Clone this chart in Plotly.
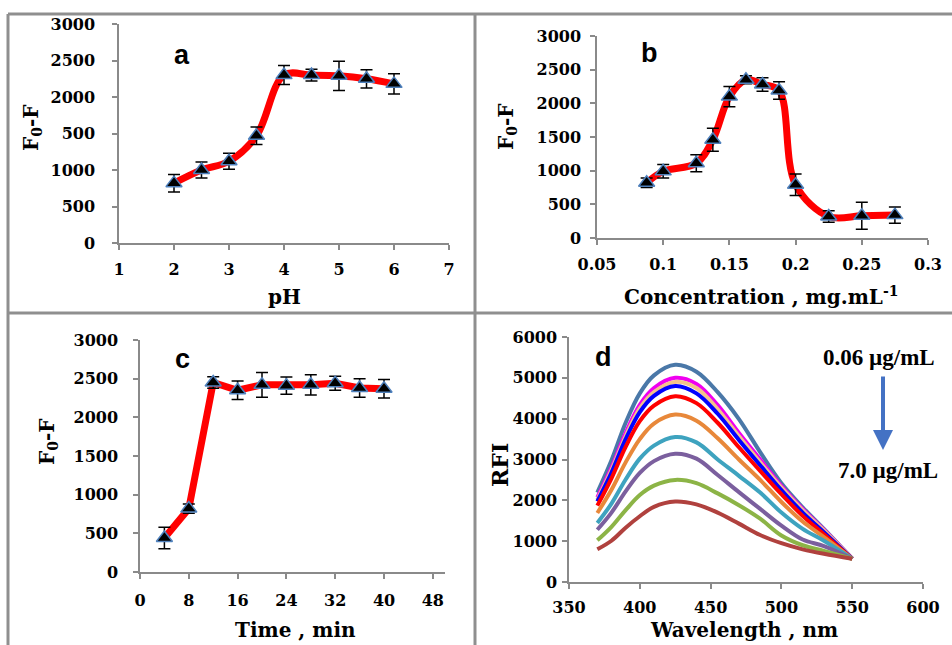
import plotly.graph_objects as go

W, H = 952, 645

# ---------------- data ----------------
ph = [2, 2.5, 3, 3.5, 4, 4.5, 5, 5.5, 6]
ph_resp = [820, 1000, 1120, 1470, 2300, 2300, 2290, 2250, 2180]
ph_err = [120, 110, 110, 120, 130, 80, 200, 125, 140]

conc = [0.0875, 0.1, 0.125, 0.1375, 0.15, 0.1625, 0.175, 0.1875, 0.2, 0.225, 0.25, 0.275]
conc_resp = [820, 990, 1110, 1460, 2100, 2350, 2280, 2190, 790, 320, 330, 340]
conc_err = [70, 100, 125, 170, 150, 60, 100, 130, 160, 85, 200, 120]

time_min = [4, 8, 12, 16, 20, 24, 28, 32, 36, 40]
time_resp = [440, 820, 2450, 2350, 2420, 2410, 2420, 2440, 2380, 2370]
time_err = [140, 60, 75, 120, 160, 110, 130, 90, 120, 120]

wavelength = [370, 380, 390, 400, 410, 425, 440, 455, 470, 485, 500, 515, 530, 550]
rfi_1 = [2190, 2980, 3900, 4620, 5060, 5320, 5150, 4650, 3990, 3180, 2420, 1830, 1300, 570]
rfi_2 = [2070, 2800, 3650, 4340, 4750, 5000, 4850, 4330, 3650, 3000, 2350, 1790, 1280, 570]
rfi_3 = [2020, 2740, 3570, 4250, 4650, 4900, 4750, 4230, 3570, 2930, 2310, 1760, 1260, 570]
rfi_4 = [1975, 2680, 3500, 4160, 4560, 4800, 4620, 4120, 3480, 2860, 2250, 1700, 1220, 570]
rfi_5 = [1870, 2540, 3310, 3940, 4320, 4550, 4380, 3900, 3300, 2720, 2150, 1620, 1170, 570]
rfi_6 = [1690, 2260, 2930, 3500, 3880, 4100, 3950, 3520, 3000, 2500, 1960, 1480, 1100, 570]
rfi_7 = [1445, 1920, 2510, 3020, 3340, 3550, 3420, 3000, 2600, 2190, 1700, 1300, 1010, 570]
rfi_8 = [1280, 1700, 2220, 2670, 2960, 3140, 3020, 2620, 2200, 1790, 1380, 1040, 880, 570]
rfi_9 = [1020, 1350, 1760, 2130, 2360, 2500, 2420, 2170, 1880, 1550, 1140, 900, 760, 570]
rfi_10 = [800, 1010, 1330, 1610, 1840, 1970, 1900, 1700, 1430, 1150, 950, 800, 690, 570]
rfi_series = [rfi_1, rfi_2, rfi_3, rfi_4, rfi_5, rfi_6, rfi_7, rfi_8, rfi_9, rfi_10]
rfi_colors = ['#4A78A8', '#F000F0', '#F5C28A', '#0000FF', '#FF0000',
              '#E8883A', '#3EA3BF', '#7B5F9E', '#8CB446', '#B0413E']

conc_ticks = [0.05, 0.1, 0.15, 0.2, 0.25, 0.3]
conc_ticktext = ['0.05', '0.1', '0.15', '0.2', '0.25', '0.3']
ph_yticktext = ['0', '500', '1000', '500', '2000', '2500', '3000']


def px(p):
    return p / W


def py(p):
    return 1 - p / H


fig = go.Figure()

RED = '#FF0000'
MK = dict(symbol='triangle-up', size=14, color='black', line=dict(color='#4F81BD', width=1.5))


def add_panel(x, y, err, xa, ya, shape):
    fig.add_trace(go.Scatter(x=x, y=y, mode='lines', xaxis=xa, yaxis=ya,
                             line=dict(color=RED, width=7, shape=shape, smoothing=1.0),
                             showlegend=False, hoverinfo='skip'))
    fig.add_trace(go.Scatter(x=x, y=y, mode='markers', xaxis=xa, yaxis=ya, marker=MK,
                             error_y=dict(type='data', array=err, color='black', thickness=1.5, width=6),
                             showlegend=False))


add_panel(ph, ph_resp, ph_err, 'x', 'y', 'spline')
add_panel(conc, conc_resp, conc_err, 'x2', 'y2', 'spline')
add_panel(time_min, time_resp, time_err, 'x3', 'y3', 'linear')

for s, c in zip(rfi_series, rfi_colors):
    fig.add_trace(go.Scatter(x=wavelength, y=s, mode='lines', xaxis='x4', yaxis='y4',
                             line=dict(color=c, width=4, shape='spline', smoothing=1.0),
                             showlegend=False))

TF = dict(family='DejaVu Serif', size=16, color='black', weight=700)


def ax(domain, rng, **kw):
    d = dict(domain=domain, range=rng, showline=True, linecolor='#8a8a8a', linewidth=1.5,
             ticks='outside', ticklen=5, tickcolor='#8a8a8a', tickwidth=1.5, automargin=False,
             showgrid=False, zeroline=False, tickfont=TF, fixedrange=True)
    d.update(kw)
    return d


layout = dict(
    width=W, height=H, margin=dict(l=0, r=0, t=0, b=0), autosize=False,
    paper_bgcolor='white', plot_bgcolor='white', showlegend=False,
    xaxis=ax([px(119), px(449)], [1, 7], anchor='y', dtick=1, ticklabelstandoff=6),
    yaxis=ax([py(243), py(24)], [0, 3000], anchor='x', tickvals=[0, 500, 1000, 1500, 2000, 2500, 3000],
             ticktext=ph_yticktext, ticklabelstandoff=14),
    xaxis2=ax([px(597), px(928)], [0.05, 0.3], anchor='y2', tickvals=conc_ticks,
              ticktext=conc_ticktext, ticklabelstandoff=6),
    yaxis2=ax([py(238), py(36)], [0, 3000], anchor='x2', dtick=500, ticklabelstandoff=6),
    xaxis3=ax([px(140), px(445)], [0, 50], anchor='y3', tickvals=[0, 8, 16, 24, 32, 40, 48],
              ticklabelstandoff=8),
    yaxis3=ax([py(572), py(340)], [0, 3000], anchor='x3', dtick=500, ticklabelstandoff=12),
    xaxis4=ax([px(569), px(923)], [350, 600], anchor='y4', dtick=50, ticklabelstandoff=5),
    yaxis4=ax([py(582), py(337)], [0, 6000], anchor='x4', dtick=1000, ticklabelstandoff=2),
)
fig.update_layout(**layout)

BORDER = '#8f8f8f'
shapes = [
    dict(x0=px(8), x1=px(952), y0=py(14), y1=py(14)),
    dict(x0=px(8), x1=px(8), y0=py(14), y1=py(645)),
    dict(x0=px(475), x1=px(475), y0=py(14), y1=py(645)),
    dict(x0=px(8), x1=px(952), y0=py(313), y1=py(313)),
]
for s in shapes:
    s.update(type='line', xref='paper', yref='paper', line=dict(color=BORDER, width=3))
fig.update_layout(shapes=shapes)

TITLE_F = dict(family='DejaVu Serif', size=20, color='black', weight=700)
LETTER_F = dict(family='Liberation Sans', size=27, color='black', weight=700)
ann = []


def text(x, y, t, font, angle=0):
    ann.append(dict(x=px(x), y=py(y), xref='paper', yref='paper', text=t, showarrow=False,
                    font=font, textangle=angle, xanchor='center', yanchor='middle'))


text(284, 297, 'pH', TITLE_F)
text(761, 296, 'Concentration , mg.mL<sup>-1</sup>', TITLE_F)
text(295, 630, 'Time , min', TITLE_F)
text(744, 630, 'Wavelength , nm', TITLE_F)
text(32, 128, 'F<sub>0</sub>-F', TITLE_F, -90)
text(507, 127, 'F<sub>0</sub>-F', TITLE_F, -90)
text(48, 442, 'F<sub>0</sub>-F', TITLE_F, -90)
text(500, 465, 'RFI', dict(family='DejaVu Serif', size=22, color='black', weight=700), -90)
text(182, 55, 'a', LETTER_F)
text(649, 53, 'b', LETTER_F)
text(182, 359, 'c', LETTER_F)
text(603, 357, 'd', LETTER_F)
CONC_F = dict(family='Liberation Serif', size=23, color='black', weight=700)
text(879, 357, '0.06 µg/mL', CONC_F)
text(888, 470, '7.0 µg/mL', CONC_F)
ann.append(dict(x=px(883), y=py(450), ax=0, ay=-75, xref='paper', yref='paper',
                showarrow=True, arrowhead=2, arrowsize=1, arrowwidth=4, arrowcolor='#4472C4', text=''))
fig.update_layout(annotations=ann)

fig.write_html('out.html', config={'displayModeBar': False},
               post_script="document.body.style.margin='0px';")
